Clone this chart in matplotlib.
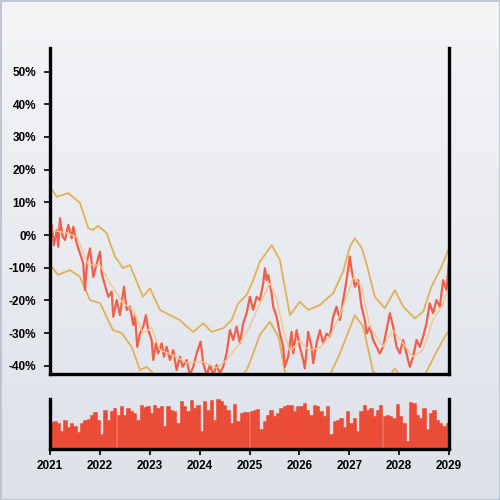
import numpy as np
import matplotlib
matplotlib.use("Agg")
import matplotlib.pyplot as plt
from matplotlib.patches import Rectangle
from matplotlib.ticker import FuncFormatter

plt.rcParams["font.family"] = ["Liberation Sans", "DejaVu Sans"]

START = 2021

# ---- price (% change), time as years since START ----
price_t = [0.034, 0.080, 0.134, 0.166, 0.200, 0.255, 0.301, 0.367, 0.435, 0.467,
           0.535, 0.601, 0.667, 0.701, 0.747, 0.802, 0.868, 0.936, 1.002, 1.036,
           1.102, 1.168, 1.236, 1.269, 1.337, 1.403, 1.483, 1.537, 1.603, 1.669,
           1.703, 1.750, 1.804, 1.870, 1.924, 1.970, 2.038, 2.070, 2.124, 2.170,
           2.238, 2.285, 2.339, 2.405, 2.471, 2.539, 2.605, 2.659, 2.739, 2.806,
           2.872, 2.940, 3.020, 3.072, 3.140, 3.206, 3.273, 3.341, 3.407, 3.473,
           3.541, 3.607, 3.673, 3.741, 3.808, 3.874, 3.942, 4.008, 4.074, 4.142,
           4.208, 4.275, 4.309, 4.343, 4.375, 4.443, 4.475, 4.543, 4.609, 4.675,
           4.709, 4.776, 4.810, 4.844, 4.876, 4.944, 5.010, 5.076, 5.110, 5.144,
           5.176, 5.244, 5.277, 5.345, 5.411, 5.477, 5.545, 5.611, 5.677, 5.745,
           5.812, 5.878, 5.946, 6.012, 6.046, 6.112, 6.178, 6.246, 6.313, 6.347,
           6.413, 6.479, 6.547, 6.613, 6.679, 6.747, 6.814, 6.880, 6.948, 7.014,
           7.080, 7.148, 7.214, 7.281, 7.349, 7.415, 7.481, 7.549, 7.615, 7.681,
           7.749, 7.816, 7.882, 7.950, 7.996]
price = [3.1, -3.1, 1.5, -3.6, 5.1, -0.5, -1.5, 3.1, -1.0, 2.5,
         -2.5, -5.6, -8.7, -16.8, -7.6, -4.1, -12.8, -8.7, -5.1, -11.7,
         -15.3, -18.9, -17.3, -25.0, -19.9, -24.5, -15.8, -22.9, -21.9, -27.5,
         -24.5, -34.2, -30.1, -28.0, -24.5, -29.1, -32.1, -38.2, -33.1, -36.2,
         -33.1, -37.2, -34.2, -38.2, -35.2, -41.3, -37.2, -40.3, -38.2, -42.8,
         -40.3, -36.2, -32.6, -39.2, -42.8, -39.8, -42.8, -39.8, -42.3, -40.3,
         -36.2, -29.1, -32.1, -28.0, -33.1, -27.0, -23.9, -18.9, -22.9, -18.9,
         -19.9, -14.8, -10.2, -13.8, -12.2, -17.8, -21.9, -25.0, -30.1, -34.2,
         -40.3, -37.2, -33.1, -29.6, -36.2, -29.1, -34.2, -38.2, -40.8, -35.2,
         -29.6, -34.2, -39.2, -33.1, -29.1, -33.1, -30.1, -31.1, -25.0, -21.9,
         -26.0, -19.9, -13.8, -6.6, -10.7, -15.8, -13.8, -21.9, -26.0, -30.1,
         -28.0, -32.1, -34.2, -36.2, -34.2, -29.1, -23.9, -28.0, -34.2, -36.2,
         -32.1, -36.2, -40.3, -37.2, -32.1, -34.2, -31.1, -27.0, -20.9, -23.9,
         -19.9, -21.9, -13.8, -16.8, -8.7]

# ---- moving average ----
ma_t = [0.034, 0.335, 0.535, 0.768, 1.002, 1.202, 1.463, 1.663, 1.864, 2.038,
        2.204, 2.465, 2.739, 3.066, 3.341, 3.541, 3.808, 4.008, 4.208, 4.409,
        4.543, 4.675, 4.810, 5.010, 5.190, 5.411, 5.631, 5.812, 5.946, 6.092,
        6.246, 6.413, 6.673, 6.874, 7.074, 7.275, 7.475, 7.675, 7.850, 7.982]
ma = [1.5, 0.6, -0.5, -9.2, -9.2, -14.7, -20.8, -22.9, -30.0, -28.4,
      -35.2, -36.7, -39.1, -38.7, -40.7, -38.2, -33.0, -28.0, -21.0, -14.7,
      -19.4, -29.0, -35.6, -32.3, -35.2, -34.5, -30.5, -24.5, -18.8, -12.8,
      -15.8, -28.0, -34.2, -29.1, -33.0, -37.2, -35.2, -26.0, -21.9, -16.8]

# ---- upper / lower bands ----
upper_t = [0.020, 0.134, 0.367, 0.601, 0.768, 0.862, 0.962, 1.136, 1.202, 1.303,
           1.463, 1.603, 1.864, 2.004, 2.204, 2.405, 2.605, 2.739, 2.872, 3.072,
           3.240, 3.473, 3.641, 3.774, 3.942, 4.074, 4.208, 4.443, 4.609, 4.810,
           5.010, 5.176, 5.411, 5.677, 5.878, 6.012, 6.112, 6.253, 6.353, 6.513,
           6.713, 6.914, 7.080, 7.315, 7.481, 7.649, 7.850, 7.982]
upper = [14.3, 11.7, 12.8, 9.8, 2.1, 1.5, 2.8, 0.6, -2.4, -6.6,
         -10.1, -9.2, -18.9, -16.3, -22.9, -24.5, -26.0, -28.0, -29.6, -27.0,
         -29.6, -28.5, -26.0, -20.9, -18.3, -13.8, -8.2, -3.1, -7.6, -24.5,
         -20.4, -22.9, -21.4, -17.8, -11.2, -3.6, -1.0, -4.0, -9.2, -18.9,
         -22.4, -16.8, -21.9, -25.5, -23.4, -15.8, -9.7, -4.6]
lower_t = [0.034, 0.160, 0.401, 0.601, 0.802, 1.002, 1.263, 1.437, 1.637, 1.804,
           1.938, 2.044, 2.204, 2.605, 3.006, 3.407, 3.707, 3.942, 4.008, 4.208,
           4.409, 4.589, 4.709, 4.910, 5.311, 5.645, 5.812, 6.012, 6.112, 6.279,
           6.479, 6.713, 6.814, 6.914, 7.014, 7.114, 7.415, 7.549, 7.715, 7.916,
           7.996]
lower = [-9.7, -12.2, -10.7, -12.8, -19.9, -20.8, -29.1, -30.0, -34.2, -41.3,
         -40.3, -41.9, -46.0, -49.0, -50.0, -52.0, -46.0, -41.3, -38.9, -30.5,
         -26.5, -31.5, -41.8, -48.0, -49.0, -41.8, -36.2, -28.5, -24.5, -28.0,
         -41.8, -45.0, -43.0, -40.8, -43.0, -45.0, -47.0, -41.8, -36.7, -31.1,
         -29.3]

# ---- volume, one bar per 1/15 year ----
volume = [26, 27, 25, 18, 28, 22, 25, 23, 17, 25, 28, 29, 33, 36, 28, 15, 38, 28, 37, 40,
          33, 42, 33, 40, 37, 35, 28, 43, 41, 42, 35, 43, 40, 42, 23, 42, 38, 37, 25, 47,
          42, 37, 48, 40, 43, 18, 47, 38, 48, 28, 49, 47, 43, 38, 25, 44, 27, 35, 36, 36,
          37, 38, 39, 20, 27, 33, 38, 32, 35, 40, 42, 43, 43, 37, 42, 42, 45, 38, 33, 43,
          42, 37, 32, 42, 15, 27, 28, 30, 22, 37, 25, 30, 18, 37, 43, 38, 40, 32, 38, 43,
          32, 33, 32, 30, 44, 32, 25, 8, 46, 45, 33, 30, 40, 20, 35, 38, 28, 25, 23, 25]

years = list(range(2021, 2030))

RED = "#f1604b"
BAR = "#eb4a35"
BAND = "#e2b057"
MA_C = "#f4c88c"

fig = plt.figure(figsize=(5, 5), dpi=100)

# background gradient + frame
bg = fig.add_axes([0, 0, 1, 1], zorder=-10)
grad = np.linspace(0, 1, 256)[:, None]
top_c = np.array([0.960, 0.960, 0.970])
bot_c = np.array([0.865, 0.882, 0.910])
img = top_c[None, None, :] * (1 - grad[..., None]) + bot_c[None, None, :] * grad[..., None]
bg.imshow(img, extent=[0, 1, 0, 1], aspect="auto")
bg.axis("off")
fig.patches.append(Rectangle((0.001, 0.001), 0.998, 0.998, transform=fig.transFigure,
                             fill=False, ec="#b3bfd1", lw=1.2))

ax = fig.add_axes([0.1, 0.252, 0.798, 0.652])
axv = fig.add_axes([0.1, 0.102, 0.798, 0.1])
for a in (ax, axv):
    a.set_facecolor("none")
    a.spines["top"].set_visible(False)
    for s in ("left", "right", "bottom"):
        a.spines[s].set_linewidth(2.4)
        a.spines[s].set_color("black")

x = lambda t: START + np.asarray(t)
ax.plot(x(upper_t), upper, color=BAND, lw=1.3)
ax.plot(x(lower_t), lower, color=BAND, lw=1.3)
ax.plot(x(price_t), price, color=RED, lw=1.6)
ax.plot(x(ma_t), ma, color=MA_C, lw=1.0)

ax.set_xlim(START, START + 8)
ax.set_ylim(-42.5, 57.2)
ax.set_yticks(range(-40, 51, 10))
ax.yaxis.set_major_formatter(FuncFormatter(lambda v, _: f"{v:.0f}%"))
ax.set_xticks([])
ax.tick_params(axis="y", length=4, width=1.2, pad=6, labelsize=8.5)
for lab in ax.get_yticklabels():
    lab.set_fontweight("bold")

n = len(volume)
vx = START + (np.arange(n) + 0.5) * 8 / n
axv.bar(vx, volume, width=8 / n, color=BAR, edgecolor=BAR, linewidth=0.4)
axv.set_xlim(START, START + 8)
axv.set_ylim(0, 49)
axv.set_yticks([])
axv.set_xticks(years)
axv.set_xticklabels([str(y) for y in years], fontweight="bold")
axv.tick_params(axis="x", length=4, width=1.2, pad=4, labelsize=8.5)

fig.savefig("out.png", dpi=100)
